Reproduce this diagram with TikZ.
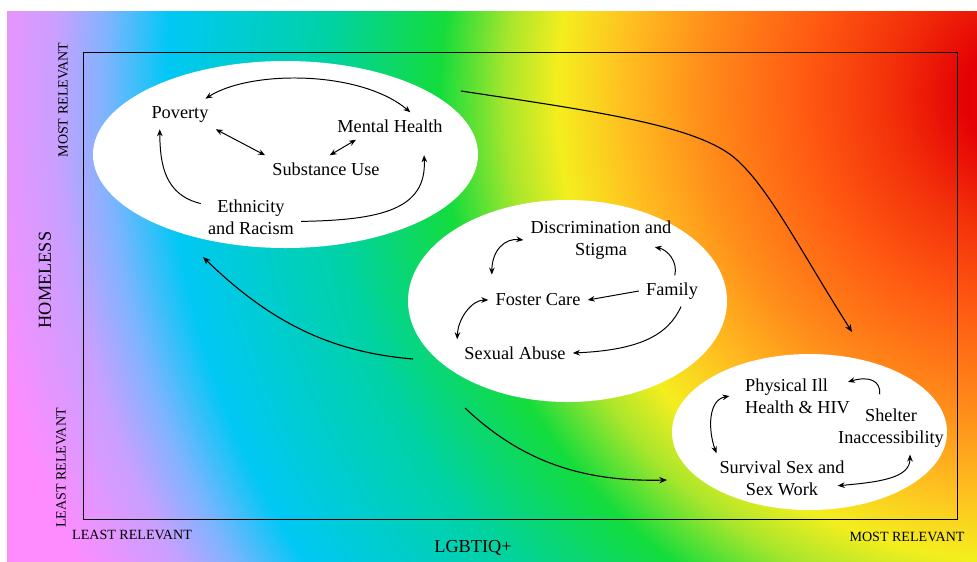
\documentclass[tikz,border=0pt]{standalone}
\usepackage{fontspec}
\setmainfont{Liberation Serif}
\usetikzlibrary{arrows.meta}

\definecolor{pinkL}{HTML}{FF8CFF}
\definecolor{lavL}{HTML}{C8A0FF}
\definecolor{skyL}{HTML}{7EB4FF}
\definecolor{cyanL}{HTML}{00C8F5}
\definecolor{tealL}{HTML}{00D2A5}
\definecolor{greenL}{HTML}{14DC3C}
\definecolor{limeL}{HTML}{A8E62C}
\definecolor{yellowL}{HTML}{F4EE1E}
\definecolor{amberL}{HTML}{FFBE20}
\definecolor{orangeL}{HTML}{FF8C1A}
\definecolor{redorL}{HTML}{FF5A12}
\definecolor{scarletL}{HTML}{F3300A}
\definecolor{redL}{HTML}{E40004}

% rings round the top right corner
\pgfdeclareradialshading{pride}{\pgfpointorigin}{color(0bp)=(redL); color(1.3bp)=(redL); color(3bp)=(scarletL); color(4.9bp)=(redorL); color(7.1bp)=(orangeL); color(8.85bp)=(amberL); color(10.35bp)=(yellowL); color(11.5bp)=(limeL); color(12.95bp)=(greenL); color(15.5bp)=(tealL); color(19bp)=(cyanL); color(20.35bp)=(skyL); color(21.45bp)=(lavL); color(23.45bp)=(pinkL); color(50bp)=(pinkL)}

\begin{document}
\begin{tikzpicture}[x=0.025cm, y=-0.025cm,
	concept/.style={font=\fontsize{13}{15.5}\selectfont, inner sep=5pt, align=center},
	axtext/.style={font=\fontsize{10}{12}\selectfont, inner sep=0pt},
	link/.style={line width=0.7pt, -{Stealth[length=5pt,width=4pt]}},
	twoway/.style={line width=0.7pt, {Stealth[length=5pt,width=4pt]}-{Stealth[length=5pt,width=4pt]}},
	flow/.style={line width=0.8pt, -{Stealth[length=5.5pt,width=4.5pt]}}]
		\useasboundingbox (0,0) rectangle (977,561);
		
		% rainbow background
		\begin{scope}
			\clip (7,11) rectangle (977,561);
			\shade[shading=pride] (1025,94) circle [radius=1130];
		\end{scope}
		
		% axes box
		\draw[line width=0.6pt] (83,52) rectangle (957,519);
		
		% axis labels
		\node[axtext, rotate=90] (ymost) at (63,100) {MOST RELEVANT};
		\node[axtext, rotate=90] (yleast) at (61,468) {LEAST RELEVANT};
		\node[font=\fontsize{13}{15}\selectfont, inner sep=0pt, rotate=90] (yname) at (45,280) {HOMELESS};
		\node[axtext] (xleast) at (132,535) {LEAST RELEVANT};
		\node[axtext] (xmost) at (907,537) {MOST RELEVANT};
		\node[font=\fontsize{13}{15}\selectfont, inner sep=0pt] (xname) at (473,548) {LGBTIQ+};
		
		% clusters
		\fill[white] (285.5,154.5) ellipse [x radius=192.5, y radius=93.5];
		\fill[white] (567.5,301) ellipse [x radius=159.5, y radius=101];
		\fill[white] (809.5,432) ellipse [x radius=137.5, y radius=78];
		
		% most relevant to homelessness
		\node[concept] (pov) at (180,114) {Poverty};
		\node[concept] (mh) at (390,126) {Mental Health};
		\node[concept] (su) at (326,169) {Substance Use};
		\node[concept] (eth) at (251,217) {Ethnicity\\and Racism};
		
		\draw[twoway] (pov.31) .. controls (250,70) and (360,70) .. (mh.34);
		\draw[twoway] (pov.south east) -- (su.north west);
		\draw[twoway] (su.75) -- (mh.-158);
		\draw[link] (eth.165) .. controls (165,195) and (160,165) .. (pov.-143);
		\draw[link] (eth.-5) .. controls (380,220) and (427,210) .. ([yshift=-11pt]mh.-22);
		
		% shared
		\node[concept] (dis) at (601,240) {Discrimination and\\Stigma};
		\node[concept] (fc) at (538,300) {Foster Care};
		\node[concept] (fam) at (672,291) {Family};
		\node[concept] (sa) at (515,353) {Sexual Abuse};
		
		\draw[twoway] (dis.west) .. controls (505,238) and (492,250) .. ([xshift=2.5pt,yshift=8.5pt]fc.north west);
		\draw[twoway] (fc.west) .. controls (472,300) and (458,318) .. (sa.north west);
		\draw[link] (fam.80) .. controls (678,262) and (668,250) .. ([xshift=-17pt,yshift=-5pt]dis.east);
		\draw[link] (fam.west) -- (fc.east);
		\draw[link] (fam.-60) .. controls (668,335) and (640,350) .. (sa.east);
		
		% most relevant to LGBTIQ+
		\node[concept, align=left] (phy) at (797.5,396) {Physical Ill\\Health \& HIV};
		\node[concept] (shel) at (891,428) {Shelter\\Inaccessibility};
		\node[concept] (sur) at (782,478) {Survival Sex and\\Sex Work};
		
		\draw[twoway] ([xshift=-6pt]phy.west) .. controls (708,400) and (708,430) .. ([xshift=3pt]sur.north west);
		\draw[link] ([xshift=-8pt,yshift=5pt]shel.north) .. controls (881,380) and (868,376) .. ([xshift=-6.5pt,yshift=10pt]phy.east);
		\draw[twoway] ([xshift=13.5pt]shel.south) .. controls (910,478) and (880,482) .. ([xshift=-10pt,yshift=-5.5pt]sur.east);
		
		% between clusters
		\coordinate (topout) at (461,91);
		\coordinate (lowin) at (852,332);
		\draw[flow] (topout) .. controls (600,112) and (700,126) .. (737,160) .. controls (770,190) and (800,250) .. (lowin);
		\coordinate (midout) at (413,359);
		\coordinate (topin) at (203,257);
		\draw[flow] (midout) .. controls (330,352) and (270,322) .. (topin);
		\coordinate (midlow) at (465,408);
		\coordinate (lowleft) at (667,480);
		\draw[flow] (midlow) .. controls (520,460) and (580,482) .. (lowleft);
		
\end{tikzpicture}
\end{document}
